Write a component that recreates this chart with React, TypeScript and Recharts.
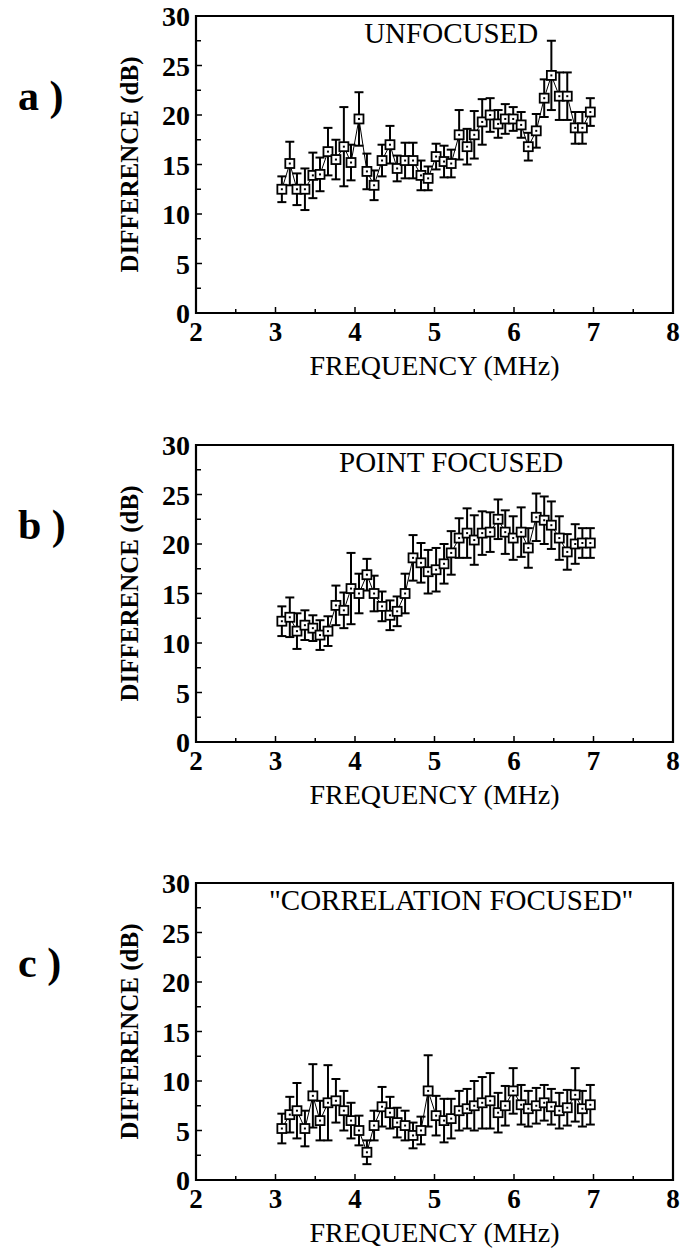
import React from 'react';
import { ComposedChart, Line, XAxis, YAxis, ErrorBar, ReferenceArea } from 'recharts';

// Frequency (MHz) of each measurement
const freq = [3.08, 3.18, 3.27, 3.37, 3.47, 3.56, 3.66, 3.76, 3.86, 3.95, 4.05, 4.15, 4.24, 4.34, 4.44, 4.53, 4.63, 4.73, 4.83, 4.92, 5.02, 5.12, 5.21, 5.31, 5.41, 5.5, 5.6, 5.7, 5.8, 5.89, 5.99, 6.09, 6.18, 6.28, 6.38, 6.47, 6.57, 6.67, 6.77, 6.86, 6.96];

// a) UNFOCUSED
const unfocused = [12.5, 15.1, 12.5, 12.5, 13.9, 14.0, 16.3, 15.5, 16.8, 15.2, 19.6, 14.3, 12.9, 15.4, 17.0, 14.6, 15.4, 15.4, 13.9, 13.6, 15.8, 15.3, 15.1, 18.0, 16.8, 18.0, 19.3, 20.0, 19.1, 19.6, 19.6, 19.0, 16.8, 18.4, 21.7, 24.0, 21.9, 21.9, 18.7, 18.7, 20.3];
const unfocusedErr = [1.3, 2.2, 1.6, 2.1, 2.3, 1.7, 2.4, 2.0, 4.0, 1.8, 2.7, 1.8, 1.5, 1.6, 1.9, 1.3, 1.8, 1.8, 1.5, 1.2, 1.3, 1.6, 1.4, 2.5, 1.8, 2.4, 2.3, 1.7, 1.4, 1.5, 1.2, 1.3, 1.4, 1.7, 1.9, 3.5, 2.4, 2.4, 1.6, 1.6, 1.4];

// b) POINT FOCUSED
const pointFocused = [12.2, 12.6, 11.2, 11.8, 11.5, 10.8, 11.2, 13.8, 13.3, 15.5, 15.0, 16.9, 15.0, 13.7, 12.8, 13.2, 15.0, 18.6, 18.1, 17.2, 17.4, 18.0, 19.1, 20.6, 21.1, 20.4, 21.1, 21.2, 22.5, 21.2, 20.6, 21.2, 19.6, 22.7, 22.4, 21.9, 20.6, 19.2, 20.0, 20.1, 20.1];
const pointFocusedErr = [1.5, 2.0, 1.8, 1.5, 1.3, 1.5, 1.5, 2.0, 1.8, 3.6, 2.0, 1.6, 1.8, 1.5, 1.5, 1.5, 2.0, 2.3, 2.0, 2.2, 2.2, 2.0, 2.2, 2.0, 2.5, 2.5, 2.2, 2.0, 2.0, 2.2, 2.2, 2.5, 2.0, 2.4, 2.4, 2.4, 2.2, 1.8, 2.0, 1.5, 1.5];

// c) "CORRELATION FOCUSED"
const corrFocused = [5.2, 6.6, 7.0, 5.2, 8.5, 6.0, 7.8, 8.0, 7.0, 6.0, 5.0, 2.8, 5.5, 7.4, 6.8, 5.8, 5.5, 4.5, 5.0, 9.0, 6.5, 6.0, 6.2, 7.0, 7.2, 7.5, 7.8, 8.0, 6.8, 7.5, 9.0, 7.6, 7.2, 7.5, 7.8, 7.4, 7.0, 7.3, 8.6, 7.2, 7.6];
const corrFocusedErr = [1.5, 1.8, 2.8, 1.8, 3.2, 2.0, 3.8, 2.2, 2.0, 1.8, 1.5, 1.2, 1.5, 2.0, 1.6, 1.5, 1.5, 1.3, 1.4, 3.6, 2.0, 2.2, 2.0, 2.0, 2.0, 2.5, 2.6, 2.8, 2.0, 2.0, 2.3, 2.0, 1.8, 1.8, 1.8, 1.8, 1.8, 1.8, 2.7, 1.8, 2.0];

const xTicks = [2, 2.5, 3, 3.5, 4, 4.5, 5, 5.5, 6, 6.5, 7, 7.5, 8];
const xTickLabels = [2, 3, 4, 5, 6, 7, 8];
const yTicks = [0, 2.5, 5, 7.5, 10, 12.5, 15, 17.5, 20, 22.5, 25, 27.5, 30];
const yTickLabels = [0, 5, 10, 15, 20, 25, 30];

const panels = [
  { letter: 'a )', title: 'UNFOCUSED', values: unfocused, errs: unfocusedErr, top: 0 },
  { letter: 'b )', title: 'POINT FOCUSED', values: pointFocused, errs: pointFocusedErr, top: 429 },
  { letter: 'c )', title: '"CORRELATION FOCUSED"', values: corrFocused, errs: corrFocusedErr, top: 867 },
];

const SERIF = '"Liberation Serif", "DejaVu Serif", "Times New Roman", serif';

const SquareDot = (props: any) => {
  const { cx, cy } = props;
  if (cx == null || cy == null) return null;
  return (
    <g>
      <rect x={cx - 4.5} y={cy - 4.5} width={9} height={9} fill="#fff" stroke="#000" strokeWidth={1.8} />
      <rect x={cx - 1} y={cy - 1} width={2} height={2} fill="#000" />
    </g>
  );
};

const X_MARGIN = 4;
const XTick = (props: any) => {
  const { x, y, payload } = props;
  const v = payload.value;
  const major = xTickLabels.includes(v);
  const axisY = y - X_MARGIN;
  return (
    <g>
      <line x1={x} x2={x} y1={axisY} y2={axisY - (major ? 6 : 4)} stroke="#000" strokeWidth={1.5} />
      {major && (
        <text x={x} y={axisY + 28} textAnchor="middle" fontFamily={SERIF} fontWeight="bold" fontSize={27} fill="#000">
          {v}
        </text>
      )}
    </g>
  );
};

const Y_MARGIN = 6;
const YTick = (props: any) => {
  const { x, y, payload } = props;
  const v = payload.value;
  const major = yTickLabels.includes(v);
  const axisX = x + Y_MARGIN;
  return (
    <g>
      <line x1={axisX} x2={axisX + (major ? 6 : 5)} y1={y} y2={y} stroke="#000" strokeWidth={1.5} />
      {major && (
        <text x={axisX - 6} y={y + 10} textAnchor="end" fontFamily={SERIF} fontWeight="bold" fontSize={28} fill="#000">
          {v}
        </text>
      )}
    </g>
  );
};

const Panel = ({ letter, title, values, errs, top }: any) => {
  const data = freq.map((x, i) => ({ x, v: values[i], e: errs[i] }));
  return (
    <div style={{ position: 'absolute', left: 0, top, width: 683, height: 400 }}>
      <ComposedChart width={683} height={400} data={data} margin={{ top: 16, right: 10, bottom: 37, left: 0 }}>
        <XAxis
          type="number"
          dataKey="x"
          domain={[2, 8]}
          ticks={xTicks}
          interval={0}
          tickSize={0}
          tickMargin={X_MARGIN}
          tick={<XTick />}
          axisLine={false}
          height={50}
          label={(p: any) => {
            const vb = p.viewBox;
            return (
              <text x={vb.x + vb.width / 2} y={vb.y + 62} textAnchor="middle" fontFamily={SERIF} fontSize={28} fill="#000">
                FREQUENCY (MHz)
              </text>
            );
          }}
        />
        <YAxis
          type="number"
          domain={[0, 30]}
          ticks={yTicks}
          interval={0}
          tickSize={0}
          tickMargin={Y_MARGIN}
          tick={<YTick />}
          axisLine={false}
          width={196}
          label={(p: any) => {
            const vb = p.viewBox;
            const cy = vb.y + vb.height / 2;
            return (
              <g>
                <text
                  transform={`translate(138, ${cy}) rotate(-90)`}
                  textAnchor="middle"
                  fontFamily={SERIF}
                  fontWeight="bold"
                  fontSize={25}
                  fill="#000"
                >
                  DIFFERENCE (dB)
                </text>
                <text x={18} y={vb.y + 94} fontFamily={SERIF} fontWeight="bold" fontSize={42} fill="#000">
                  {letter}
                </text>
              </g>
            );
          }}
        />
        <ReferenceArea
          x1={2}
          x2={8}
          y1={0}
          y2={30}
          fill="none"
          stroke="#000"
          strokeWidth={2.2}
          ifOverflow="visible"
          label={(p: any) => {
            const vb = p.viewBox;
            return (
              <text x={vb.x + vb.width * 0.535} y={vb.y + 27} textAnchor="middle" fontFamily={SERIF} fontSize={29} fill="#000">
                {title}
              </text>
            );
          }}
        />
        <Line
          dataKey="v"
          type="linear"
          stroke="#000"
          strokeWidth={1}
          dot={<SquareDot />}
          activeDot={false}
          isAnimationActive={false}
        >
          <ErrorBar dataKey="e" direction="y" width={4.5} stroke="#000" strokeWidth={2} isAnimationActive={false} />
        </Line>
      </ComposedChart>
    </div>
  );
};

export default function App() {
  return (
    <div style={{ position: 'absolute', left: 0, top: 0, width: 683, height: 1254, background: '#fff', overflow: 'hidden' }}>
      {panels.map((p) => (
        <Panel key={p.letter} {...p} />
      ))}
    </div>
  );
}
